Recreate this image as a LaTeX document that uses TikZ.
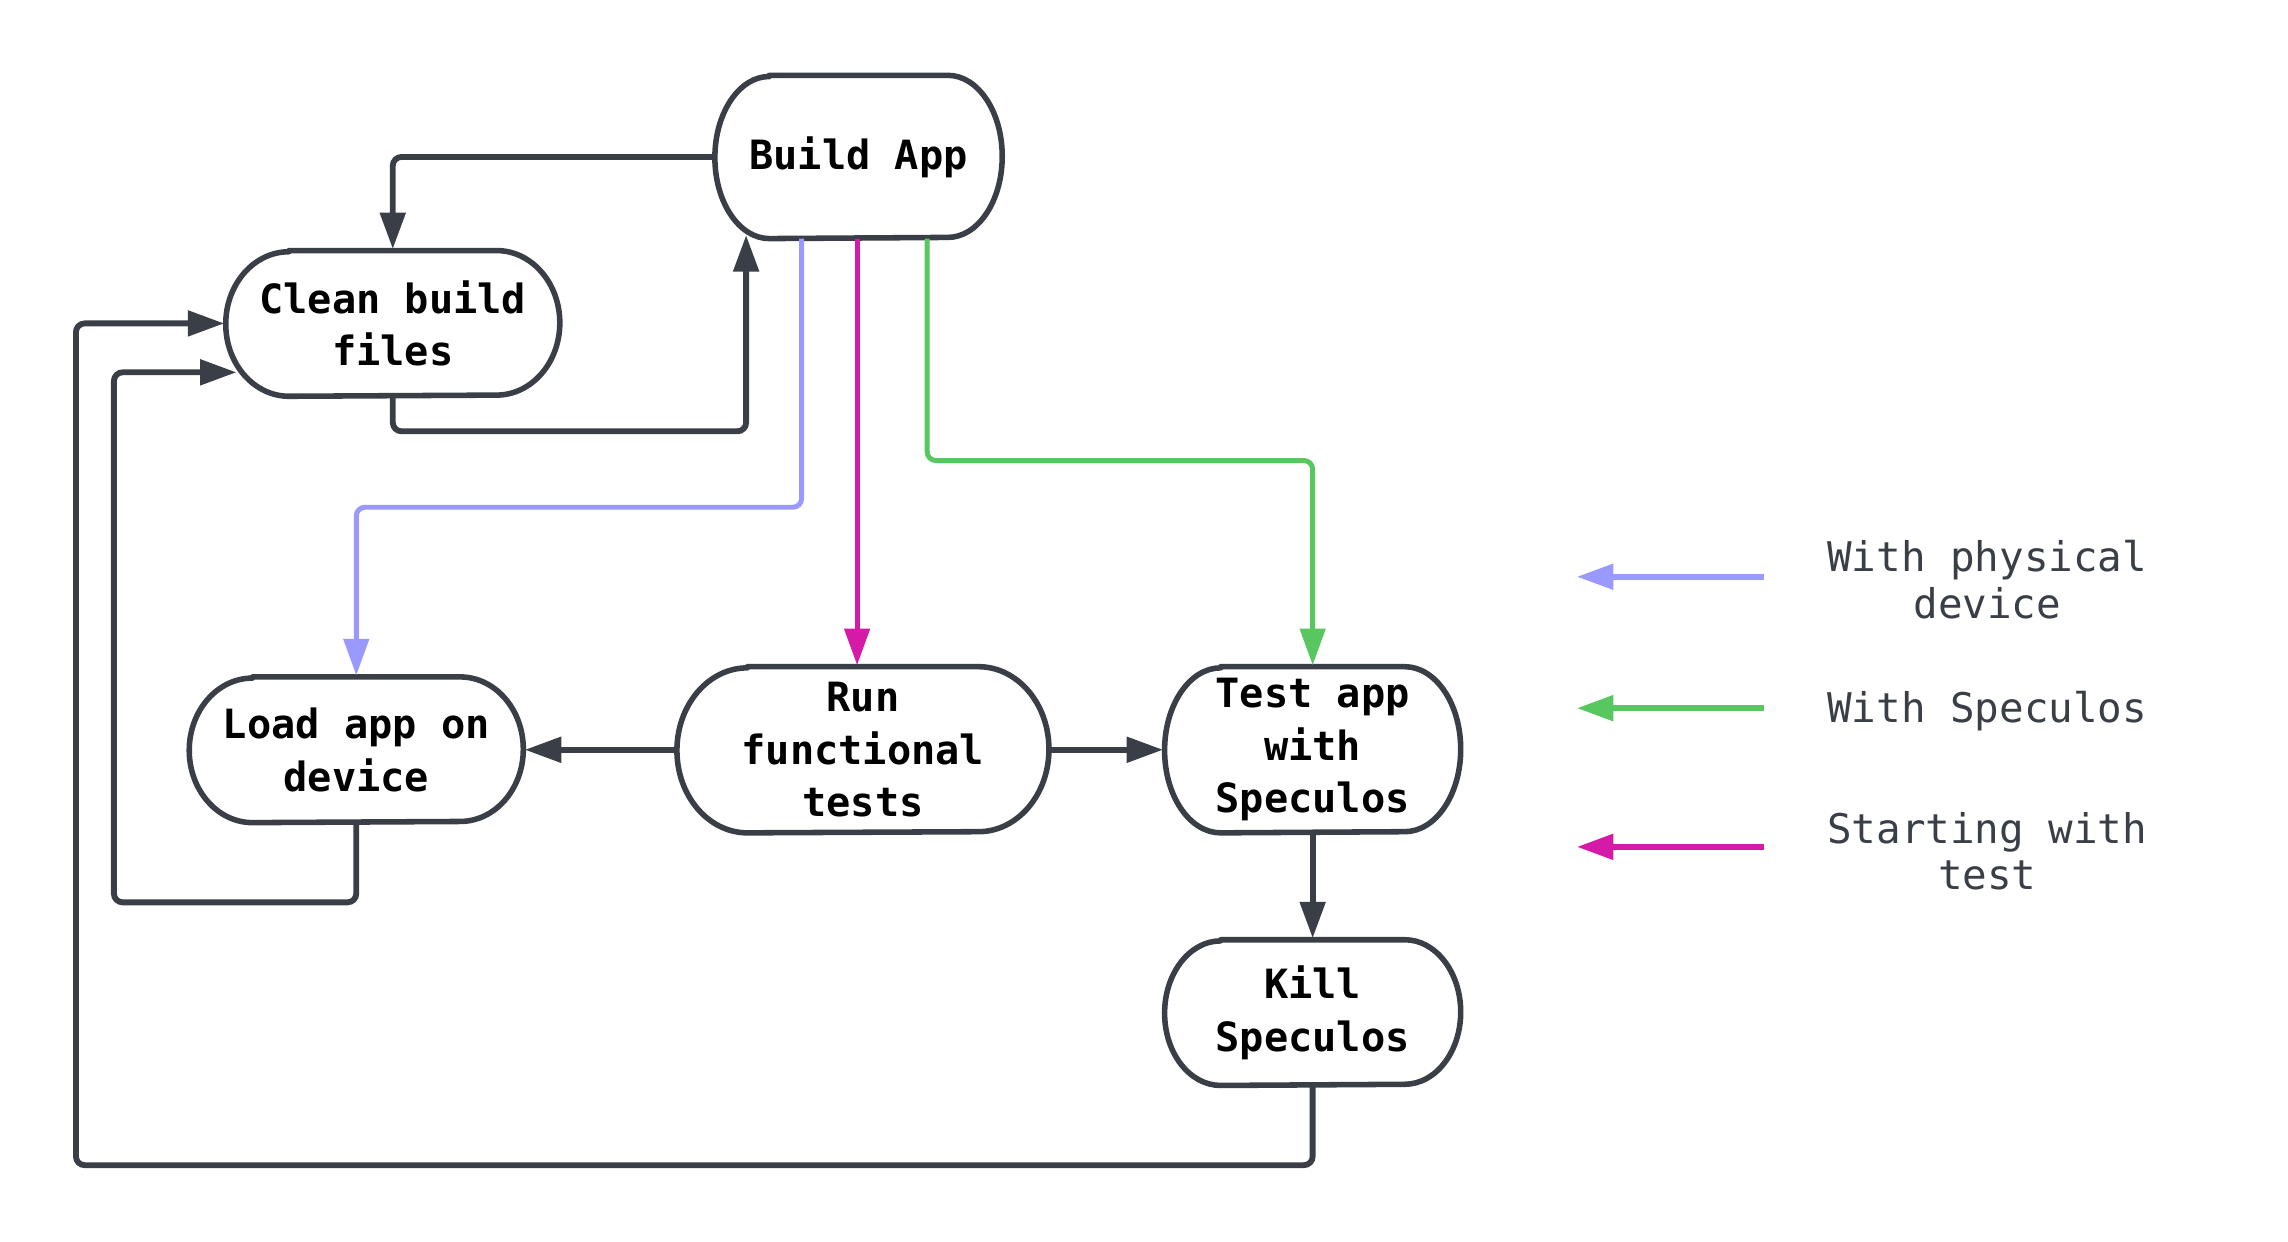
\documentclass[tikz,border=0pt]{standalone}
\usepackage{fontspec}
\setmonofont{DejaVu Sans Mono}
\usetikzlibrary{arrows.meta,calc}
\definecolor{dk}{RGB}{58,63,71}
\definecolor{purp}{RGB}{153,153,255}
\definecolor{mag}{RGB}{214,26,168}
\definecolor{grn}{RGB}{88,199,96}
\tikzset{
  nodetext/.style={inner sep=0pt, draw=none, align=center, text=black,
    font=\ttfamily\bfseries\fontsize{13.8}{18}\selectfont},
  border/.style={draw=dk, line width=1.9pt, line join=round},
  legtext/.style={inner sep=0pt, align=center, text=dk,
    font=\ttfamily\fontsize{14}{16}\selectfont},
  conn/.style={line width=2pt, rounded corners=3pt,
    -{Triangle[length=12.5pt,width=8.5pt]}, shorten >=0.5pt},
  darr/.style={conn, draw=dk},
  parr/.style={conn, draw=purp, line width=1.7pt},
  marr/.style={conn, draw=mag, line width=1.7pt},
  garr/.style={conn, draw=grn, line width=1.7pt},
}
\newcommand\term[6]{%
  \node[nodetext, minimum width=#4*0.5pt, minimum height=#5*0.5pt] (#1) at (#2,#3) {#6};
  \pgfmathsetmacro\rx{0.19*#4*0.5}%
  \pgfmathsetmacro\ry{#5*0.25}%
  \draw[border] ([xshift=\rx pt]#1.north west) -- ([xshift=-\rx pt]#1.north east)
     arc[start angle=90,end angle=-90,x radius=\rx pt,y radius=\ry pt]
     -- ([xshift=\rx pt]#1.south west)
     arc[start angle=270,end angle=90,x radius=\rx pt,y radius=\ry pt] -- cycle;
}
\begin{document}
\begin{tikzpicture}[x=0.5pt,y=-0.5pt]
\useasboundingbox[fill=white] (0,0) rectangle (1567,850);

\term{build}{588}{107.5}{196}{111}{Build App}
\term{clean}{269}{221.5}{228}{99}{Clean build\\files}
\term{load}{244}{513.5}{228}{99}{Load app on\\device}
\term{run}{591}{513.5}{254}{113}{Run\\functional\\tests}
\term{test}{899}{513.5}{202}{113}{Test app\\with\\Speculos}
\term{kill}{899}{693.5}{202}{99}{Kill\\Speculos}

\coordinate (buildIn) at (511,160);
\coordinate (cleanIn2) at (163,255);
\coordinate (c1) at (52,798);
\coordinate (c2) at (78,618);

% dark connectors
\draw[darr] (build.west) -| (clean.north);
\draw[darr] (clean.south) -- ++(0,24) -| (buildIn);
\draw[darr] (run.west) -- (load.east);
\draw[darr] (run.east) -- (test.west);
\draw[darr] (test.south) -- (kill.north);
\draw[darr] (kill.south) |- (c1) |- (clean.west);
\draw[darr] (load.south) |- (c2) |- (cleanIn2);

% coloured connectors
\coordinate (ps) at ([xshift=-19.5pt]build.south);
\coordinate (ms) at ([xshift=-0.5pt]build.south);
\coordinate (gs) at ([xshift=23.5pt]build.south);
\draw[parr] (ps) -- ++(0,184) -| (load.north);
\draw[marr] (ms) -- (ms |- run.north);
\draw[garr] (gs) -- ++(0,152) -| (test.north);

% legend
\coordinate (l1s) at (1208,395); \coordinate (l1e) at (1080,395);
\coordinate (l2s) at (1208,485); \coordinate (l2e) at (1080,485);
\coordinate (l3s) at (1208,580); \coordinate (l3e) at (1080,580);
\draw[parr, line width=2pt, shorten >=0pt] (l1s) -- (l1e);
\draw[garr, line width=2pt, shorten >=0pt] (l2s) -- (l2e);
\draw[marr, line width=2pt, shorten >=0pt] (l3s) -- (l3e);
\node[legtext] (t1) at (1361,397) {With physical\\device};
\node[legtext] (t2) at (1361,487) {With Speculos};
\node[legtext] (t3) at (1361,583) {Starting with\\test};
\end{tikzpicture}
\end{document}
